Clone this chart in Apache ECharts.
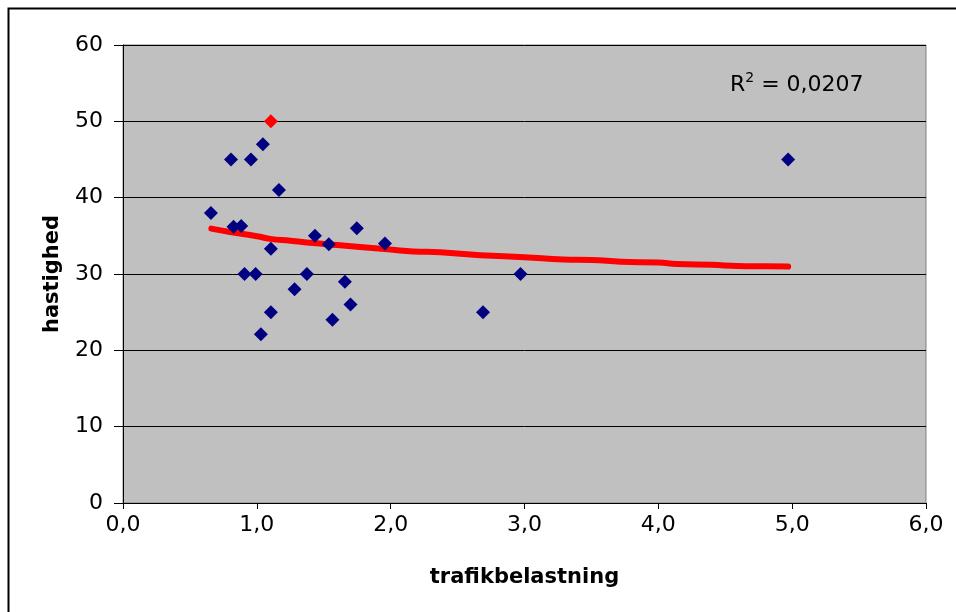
<!DOCTYPE html>
<html><head><meta charset="utf-8">
<script src="https://cdn.jsdelivr.net/npm/echarts@6/dist/echarts.min.js"></script>
<style>html,body{margin:0;padding:0;background:#fff}#c{width:956px;height:612px}</style>
</head><body><div id="c"></div>
<script>
// Blue data points [trafikbelastning, hastighed]
const blueX = [1.045,0.807,0.956,1.165,0.657,0.826,0.883,1.105,1.434,1.538,1.747,1.957,0.908,0.991,1.374,1.282,1.658,1.700,1.105,1.565,1.030,4.97,2.97,2.69];
const blueY = [47,45,45,41,38,36.2,36.3,33.3,35,33.9,36,34,30,30,30,28,29,26,25,24,22.1,45,30,25];
// Highlighted red point
const redX = [1.105];
const redY = [50];
// Trendline points
const trendX = [0.66,0.8,1.0,1.1,1.25,1.42,1.6,1.77,2.0,2.17,2.37,2.67,3.0,3.29,3.5,3.72,4.0,4.14,4.4,4.59,4.8,4.97];
const trendY = [35.95,35.5,34.95,34.6,34.35,34.05,33.8,33.55,33.2,32.95,32.85,32.45,32.2,31.9,31.85,31.6,31.5,31.3,31.2,31.05,31.0,30.97];
const xTicks = [0,1,2,3,4,5,6];
const yTicks = [0,10,20,30,40,50,60];
const r2Text = "0,0207";

const zip = (a,b) => a.map((v,i)=>[v,b[i]]);
const font = "DejaVu Sans";
const chart = echarts.init(document.getElementById('c'), null, {renderer:'canvas'});
chart.setOption({
  animation:false,
  backgroundColor:'#ffffff',
  grid:{left:123,right:30,top:45,bottom:109,show:true,backgroundColor:'#C0C0C0',borderColor:'#808080',borderWidth:1},
  xAxis:{type:'value',min:xTicks[0],max:xTicks[xTicks.length-1],interval:1,
    name:'trafikbelastning',nameLocation:'middle',nameGap:64,
    nameTextStyle:{fontFamily:font,fontWeight:'bold',fontSize:21,color:'#000'},
    axisLine:{show:true,onZero:false,lineStyle:{color:'#000',width:1}},
    axisTick:{show:true,length:6,lineStyle:{color:'#000'}},
    axisLabel:{fontFamily:font,fontSize:22,color:'#000',margin:11,formatter:v=>v.toFixed(1).replace('.',',')},
    splitLine:{show:false}},
  yAxis:{type:'value',min:yTicks[0],max:yTicks[yTicks.length-1],interval:10,
    name:'hastighed',nameLocation:'middle',nameGap:60,nameRotate:90,
    nameTextStyle:{fontFamily:font,fontWeight:'bold',fontSize:21,color:'#000'},
    axisLine:{show:true,onZero:false,lineStyle:{color:'#000',width:1}},
    axisTick:{show:true,length:9,lineStyle:{color:'#000'}},
    axisLabel:{fontFamily:font,fontSize:22,color:'#000',margin:20},
    splitLine:{show:true,lineStyle:{color:'#000',width:1}}},
  graphic:[
    {type:'rect',left:6,top:6,shape:{width:1000,height:700},style:{fill:'none',stroke:'#000',lineWidth:2},silent:true,z:-10},
    {type:'text',left:730,top:71,style:{
      text:'{r|R}{s|2}{r| = '+r2Text+'}',
      rich:{r:{fontFamily:font,fontSize:22,color:'#000',verticalAlign:'bottom'},
            s:{fontFamily:font,fontSize:14,color:'#000',verticalAlign:'top',padding:[0,0,11,0]}}
    },z:10}
  ],
  series:[
    {type:'line',data:zip(trendX,trendY),smooth:true,showSymbol:false,symbol:'none',
      lineStyle:{color:'#FF0000',width:6,cap:'round'},z:3},
    {type:'scatter',data:zip(blueX,blueY),symbol:'diamond',symbolSize:14,
      itemStyle:{color:'#000080',opacity:1},z:4},
    {type:'scatter',data:zip(redX,redY),symbol:'diamond',symbolSize:14,
      itemStyle:{color:'#FF0000',opacity:1},z:5}
  ]
});
</script></body></html>
